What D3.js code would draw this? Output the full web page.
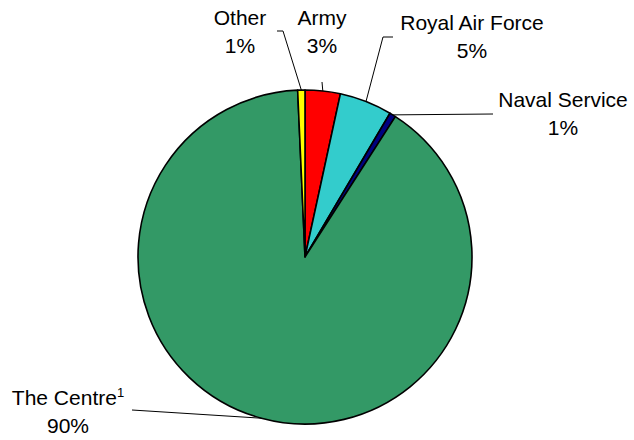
<!DOCTYPE html>
<html lang="en">
<head>
    <meta charset="UTF-8">
    <script src="https://cdnjs.cloudflare.com/ajax/libs/d3/7.8.4/d3.min.js"></script>
    <title>Pie</title>
    <style>
        body { margin: 0; background: #fff; }
        text { font-family: "Liberation Sans", Arial, sans-serif; font-size: 21px; fill: #000; }
    </style>
</head>
<body>
</body>
<script>
// slices clockwise from 12 o'clock
let categories = ["Army", "Royal Air Force", "Naval Service", "The Centre", "Other"]
let values = [3.4, 5.1, 0.6, 90.2, 0.7]
let pctLabels = ["3%", "5%", "1%", "90%", "1%"]
let colors = ["#ff0000", "#33cccc", "#000080", "#339966", "#ffff00"]

const width = 634, height = 440
const cx = 305, cy = 257, radius = 167

// where each label sits (center x, first baseline) and the leader elbow
let labelPos = [
  {x: 322, y: 25, elbow: [[322, 82]]},
  {x: 472, y: 30, elbow: [[393, 37], [383, 37]]},
  {x: 563, y: 107, elbow: [[493, 114]]},
  {x: 68, y: 405, elbow: [[132, 410]]},
  {x: 240, y: 25, elbow: [[277, 31], [283, 31]]}
]

let svg = d3.select("body").append("svg")
  .attr("width", width)
  .attr("height", height)

let pie = d3.pie().sort(null).value(d => d)
let arcs = pie(values)
let arc = d3.arc().innerRadius(0).outerRadius(radius)

let g = svg.append("g").attr("transform", `translate(${cx},${cy})`)

g.selectAll("path.slice").data(arcs).enter().append("path")
  .attr("class", "slice")
  .attr("d", arc)
  .attr("fill", (d, i) => colors[i])
  .attr("stroke", "#000")
  .attr("stroke-width", 1.6)
  .attr("stroke-linejoin", "round")

// leader lines
let line = d3.line()
arcs.forEach(function(d, i) {
  let mid = (d.startAngle + d.endAngle) / 2
  let px = cx + radius * Math.sin(mid)
  let py = cy - radius * Math.cos(mid)
  let pts = labelPos[i].elbow.concat([[px, py]])
  svg.append("path")
    .attr("d", line(pts))
    .attr("fill", "none")
    .attr("stroke", "#000")
    .attr("stroke-width", 1)
})

// labels
categories.forEach(function(name, i) {
  let p = labelPos[i]
  let t = svg.append("text")
    .attr("x", p.x)
    .attr("y", p.y)
    .attr("text-anchor", "middle")
  t.append("tspan").text(name)
  if (name == "The Centre") {
    t.append("tspan").text("1")
      .attr("dy", -8)
      .style("font-size", "13px")
  }
  svg.append("text")
    .attr("x", p.x)
    .attr("y", p.y + 28)
    .attr("text-anchor", "middle")
    .text(pctLabels[i])
})
</script>
</html>
